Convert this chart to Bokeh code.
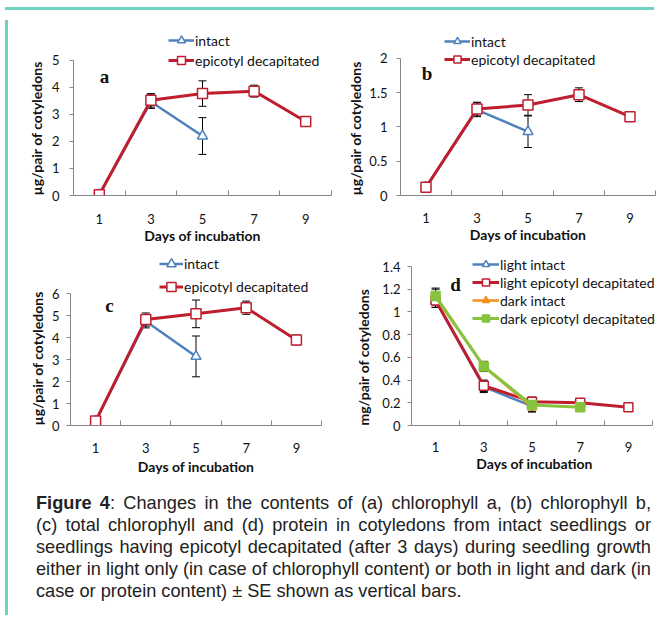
from bokeh.plotting import figure
from bokeh.models import (Range1d, FixedTicker, CustomJSTickFormatter, Legend, LegendItem,
                          Whisker, TeeHead, ColumnDataSource, Label, Div)
from bokeh.layouts import column, row
from bokeh.embed import file_html
from bokeh.resources import INLINE

# ---------------- data ----------------
days = [1, 3, 5, 7, 9]
days_intact = [1, 3, 5]
days_dark_decap = [1, 3, 5, 7]
boundaries = [2, 4, 6, 8, 10]

# (a) chlorophyll a (µg/pair of cotyledons)
a_intact = [0.03, 3.47, 2.2]
a_intact_se = [0.0, 0.25, 0.68]
a_decap = [0.03, 3.52, 3.77, 3.86, 2.74]
a_decap_se = [0.01, 0.25, 0.47, 0.22, 0.05]

# (b) chlorophyll b
b_intact = [0.12, 1.25, 0.93]
b_intact_se = [0.0, 0.1, 0.23]
b_decap = [0.12, 1.26, 1.32, 1.47, 1.15]
b_decap_se = [0.01, 0.1, 0.15, 0.1, 0.03]

# (c) total chlorophyll
c_intact = [0.2, 4.75, 3.15]
c_intact_se = [0.0, 0.3, 0.93]
c_decap = [0.2, 4.83, 5.09, 5.37, 3.9]
c_decap_se = [0.02, 0.3, 0.63, 0.3, 0.22]

# (d) protein (mg/pair of cotyledons)
d_light_intact = [1.1, 0.34, 0.17]
d_light_intact_se = [0.06, 0.05, 0.05]
d_light_decap = [1.1, 0.35, 0.21, 0.2, 0.16]
d_light_decap_se = [0.06, 0.05, 0.04, 0.02, 0.01]
d_dark_intact = [1.13, 0.52, 0.16]
d_dark_intact_se = [0.07, 0.04, 0.04]
d_dark_decap = [1.14, 0.52, 0.18, 0.16]
d_dark_decap_se = [0.07, 0.045, 0.04, 0.02]

a_yticks = [0, 1, 2, 3, 4, 5]
b_yticks = [0, 0.5, 1, 1.5, 2]
c_yticks = [0, 1, 2, 3, 4, 5, 6]
d_yticks = [0, 0.2, 0.4, 0.6, 0.8, 1.0, 1.2, 1.4]

ytitle_ug = "µg/pair of cotyledons"
ytitle_mg = "mg/pair of cotyledons"
xtitle = "Days of incubation"

caption_lines = [
    "<b>Figure 4</b>: Changes in the contents of (a) chlorophyll a, (b) chlorophyll b,",
    "(c) total chlorophyll and (d) protein in cotyledons from intact seedlings or",
    "seedlings having epicotyl decapitated (after 3 days) during seedling growth",
    "either in light only (in case of chlorophyll content) or both in light and dark (in",
    "case or protein content) ± SE shown as vertical bars.",
]

# ---------------- style ----------------
RED = "#BF1E2E"
BLUE = "#4F81BD"
ORANGE = "#F39021"
GREEN = "#86C440"
AXIS = "#868686"
TEAL = "#6fd3c3"
FONT = "Lato"


def make_fig(w, h, ml, mr, mt, mb, ytop, yend, xend, yticks, ytitle,
             ytick_so, ylab_so, xtick_so, xlab_so):
    # the frame is a little taller/wider than the axes so that the legend fits inside it;
    # the axes themselves are bounded to the data extent.  The y title is the plot title
    # placed on the left, aligned to the bottom of the frame (like the reference).
    p = figure(width=w, height=h, x_range=Range1d(0, xend), y_range=Range1d(0, yend),
               output_backend="svg", toolbar_location=None,
               title=ytitle, title_location="left",
               min_border_left=ml, min_border_right=mr,
               min_border_top=mt, min_border_bottom=mb)
    p.outline_line_color = None
    p.grid.visible = False
    p.background_fill_color = "white"
    p.border_fill_color = "white"

    t = p.title
    t.align = "left"
    t.text_font = FONT
    t.text_font_style = "bold"
    t.text_font_size = "14px"
    t.text_color = "#111111"
    t.standoff = ylab_so
    t.offset = 0

    xa = p.xaxis[0]
    xa.bounds = (0, 10)
    xa.ticker = FixedTicker(ticks=days, minor_ticks=boundaries)
    xa.axis_line_color = AXIS
    xa.major_tick_in = 0
    xa.major_tick_out = 0
    xa.minor_tick_in = 5
    xa.minor_tick_out = 0
    xa.minor_tick_line_color = AXIS
    xa.major_label_text_font = FONT
    xa.major_label_text_font_size = "13px"
    xa.major_label_text_color = "#111111"
    xa.major_label_standoff = xtick_so
    xa.axis_label = xtitle
    xa.axis_label_text_font = FONT
    xa.axis_label_text_font_style = "bold"
    xa.axis_label_text_font_size = "14px"
    xa.axis_label_text_color = "#111111"
    xa.axis_label_standoff = xlab_so

    ya = p.yaxis[0]
    ya.bounds = (0, ytop)
    ya.ticker = FixedTicker(ticks=yticks, minor_ticks=[])
    ya.formatter = CustomJSTickFormatter(code="return String(Number(tick.toFixed(2)))")
    ya.axis_line_color = AXIS
    ya.major_tick_line_color = AXIS
    ya.major_tick_in = 0
    ya.major_tick_out = 4
    ya.major_label_text_font = FONT
    ya.major_label_text_font_size = "13px"
    ya.major_label_text_color = "#111111"
    ya.major_label_standoff = ytick_so
    return p


def add_errors(p, xs, ys, se):
    src = ColumnDataSource(dict(x=xs,
                                upper=[v + s for v, s in zip(ys, se)],
                                lower=[v - s for v, s in zip(ys, se)]))
    wk = Whisker(source=src, base="x", upper="upper", lower="lower",
                 line_color="black", line_width=1, level="underlay",
                 upper_head=TeeHead(size=8, line_color="black", line_width=1),
                 lower_head=TeeHead(size=8, line_color="black", line_width=1))
    p.add_layout(wk)


def add_series(p, xs, ys, se, color, marker, fill, size, lw):
    add_errors(p, xs, ys, se)
    lr = p.line(xs, ys, line_color=color, line_width=lw)
    sr = p.scatter(xs, ys, marker=marker, size=size, fill_color=fill,
                   line_color=color, line_width=1.5)
    return [lr, sr]


def add_legend(p, items, loc, gh, gw, fs="14px"):
    leg = Legend(items=[LegendItem(label=t, renderers=r) for t, r in items],
                 location=loc, padding=0, spacing=0, margin=0,
                 glyph_width=gw, glyph_height=gh, label_height=gh,
                 label_standoff=1, border_line_color=None,
                 background_fill_alpha=0,
                 label_text_font=FONT, label_text_font_size=fs,
                 label_text_color="#111111")
    p.add_layout(leg)


def add_letter(p, x, y, t):
    p.add_layout(Label(x=x, y=y, text=t, text_font="Liberation Serif",
                       text_font_style="bold", text_font_size="19px",
                       text_align="center", text_baseline="middle",
                       text_color="#111111"))


# ---------------- panel a ----------------
pa = make_fig(329, 232, 60, 11, 14, 52, 5, 6.103, 10, a_yticks, ytitle_ug, 10, 7, 18, 0)
ra_i = add_series(pa, days_intact, a_intact, a_intact_se, BLUE, "triangle", "white", 10, 2.5)
ra_d = add_series(pa, days, a_decap, a_decap_se, RED, "square", "white", 10, 3)
add_legend(pa, [("intact", ra_i), ("epicotyl decapitated", ra_d)], (95, 125), 20, 26)
add_letter(pa, 1.2, 4.41, "a")

# ---------------- panel b ----------------
pb = make_fig(317, 232, 53, 4, 15, 51, 2, 2.406, 10, b_yticks, ytitle_ug, 9, 5, 17, 0)
rb_i = add_series(pb, days_intact, b_intact, b_intact_se, BLUE, "triangle", "white", 10, 2.5)
rb_d = add_series(pb, days, b_decap, b_decap_se, RED, "square", "white", 10, 3)
add_legend(pb, [("intact", rb_i), ("epicotyl decapitated", rb_d)], (44, 127), 18, 26)
add_letter(pb, 1.04, 1.78, "b")

# ---------------- panel c ----------------
pc = make_fig(329, 235, 57, 21, 5, 52, 6, 7.796, 10, c_yticks, ytitle_ug, 7, 6, 17, 2)
rc_i = add_series(pc, days_intact, c_intact, c_intact_se, BLUE, "triangle", "white", 10, 2.5)
rc_d = add_series(pc, days, c_decap, c_decap_se, RED, "square", "white", 10, 3)
add_legend(pc, [("intact", rc_i), ("epicotyl decapitated", rc_d)], (89, 127), 23, 24)
add_letter(pc, 1.55, 5.47, "c")

# ---------------- panel d ----------------
pd_ = make_fig(317, 235, 69, 2, 7, 57, 1.4, 1.5057, 10.207, d_yticks, ytitle_mg, 7, 15, 16, 0)
rd_li = add_series(pd_, days_intact, d_light_intact, d_light_intact_se, BLUE, "triangle", "white", 9, 2.5)
rd_ld = add_series(pd_, days, d_light_decap, d_light_decap_se, RED, "square", "white", 9, 3)
rd_di = add_series(pd_, days_intact, d_dark_intact, d_dark_intact_se, ORANGE, "triangle", ORANGE, 9, 2.5)
rd_dd = add_series(pd_, days_dark_decap, d_dark_decap, d_dark_decap_se, GREEN, "square", GREEN, 9, 3)
add_legend(pd_, [("light intact", rd_li), ("light epicotyl decapitated", rd_ld),
                 ("dark intact", rd_di), ("dark epicotyl decapitated", rd_dd)], (61, 98), 18, 27)
add_letter(pd_, 1.83, 1.24, "d")

# ---------------- caption & frame ----------------
line_divs = []
for i, ln in enumerate(caption_lines):
    last = "left" if i == len(caption_lines) - 1 else "justify"
    line_divs.append(
        f'<div style="text-align:justify;text-align-last:{last};white-space:nowrap;'
        f'height:22px;line-height:22px;">{ln}</div>')
caption_html = ('<div style="margin-left:18px;width:615px;padding-top:5px;'
                "font-family:'Liberation Sans',Arial,sans-serif;font-size:18.2px;color:#222;\">"
                + "".join(line_divs) + "</div>")
caption = Div(text=caption_html, width=646, height=128)

top_bar = Div(text="", width=649, height=5,
              styles={"background": f"linear-gradient(to bottom, #ffffff 0px, #ffffff 2px, {TEAL} 2px, {TEAL} 5px)"})
left_bar = Div(text="", width=3, height=595, styles={"background-color": TEAL})

inner = column(row(pa, pb, spacing=0), row(pc, pd_, spacing=0), caption, spacing=0)
layout = column(top_bar, row(left_bar, inner, spacing=0), spacing=0)

open("out.html", "w").write(file_html(layout, INLINE))
